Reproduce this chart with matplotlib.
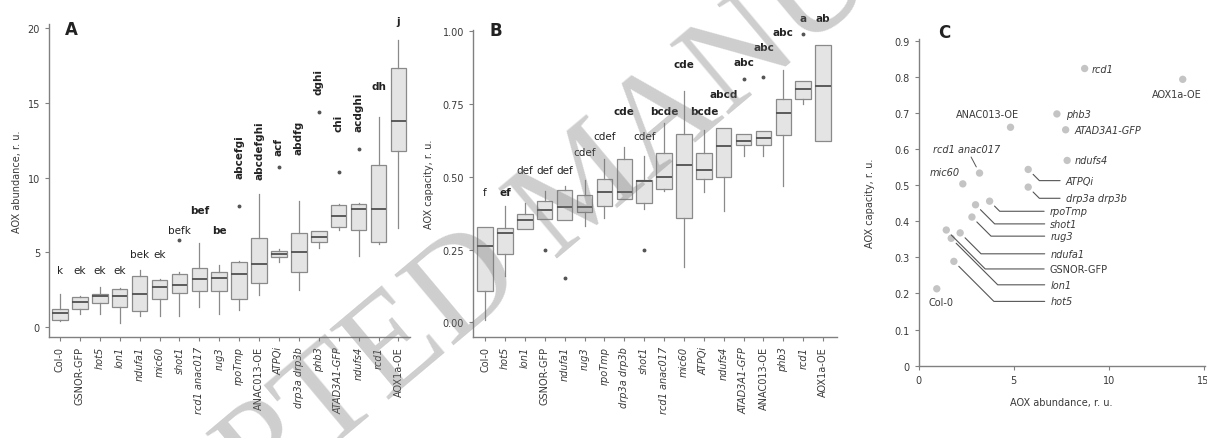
import numpy as np
import matplotlib
matplotlib.use("Agg")
import matplotlib.pyplot as plt

# ---------------- datos panel A (AOX abundance) ----------------
cats_a = ['Col-0', 'GSNOR-GFP', 'hot5', 'lon1', 'ndufa1', 'mic60', 'shot1',
          'rcd1 anac017', 'rug3', 'rpoTmp', 'ANAC013-OE', 'ATPQi',
          'drp3a drp3b', 'phb3', 'ATAD3A1-GFP', 'ndufs4', 'rcd1', 'AOX1a-OE']
a_q1 = [0.44, 1.18, 1.63, 1.34, 1.05, 1.90, 2.29, 2.39, 2.39, 1.90, 2.96, 4.71,
        3.65, 5.72, 6.72, 6.46, 5.70, 11.75]
a_med = [0.96, 1.68, 2.08, 2.08, 2.24, 2.69, 2.84, 3.18, 3.25, 3.52, 4.19, 4.89,
         5.04, 6.00, 7.46, 7.91, 7.90, 13.75]
a_q3 = [1.23, 2.02, 2.24, 2.53, 3.40, 3.13, 3.58, 3.92, 3.70, 4.37, 5.98, 5.08,
        6.27, 6.39, 8.14, 8.23, 10.87, 17.30]
a_lo = [0.40, 0.89, 0.89, 0.29, 0.74, 0.76, 0.76, 1.34, 0.89, 1.12, 2.13, 4.32,
        2.46, 5.27, 6.50, 4.72, 5.55, 6.65]
a_hi = [2.24, 2.10, 2.69, 2.60, 3.81, 3.20, 3.70, 5.60, 4.14, 4.40, 8.87, 5.20,
        8.42, 6.40, 8.20, 8.30, 14.05, 19.20]
a_out = [[], [], [], [], [], [], [5.82], [], [], [8.07], [], [10.7], [], [14.4],
         [10.4], [11.9], [], []]
a_letras = ['k', 'ek', 'ek', 'ek', 'bek', 'ek', 'befk', 'bef', 'be', 'abcefgi',
            'abcdefghi', 'acf', 'abdfg', 'dghi', 'chi', 'acdghi', 'dh', 'j']
a_negrita = [False, False, False, False, False, False, False, True, True, True,
             True, True, True, True, True, True, True, True]
a_vertical = [False] * 9 + [True] * 7 + [False, False]

# ---------------- datos panel B (AOX capacity) ----------------
cats_b = ['Col-0', 'hot5', 'lon1', 'GSNOR-GFP', 'ndufa1', 'rug3', 'rpoTmp',
          'drp3a drp3b', 'shot1', 'rcd1 anac017', 'mic60', 'ATPQi', 'ndufs4',
          'ATAD3A1-GFP', 'ANAC013-OE', 'phb3', 'rcd1', 'AOX1a-OE']
b_q1 = [0.107, 0.235, 0.319, 0.354, 0.351, 0.378, 0.401, 0.424, 0.409, 0.459,
        0.360, 0.494, 0.500, 0.610, 0.610, 0.645, 0.767, 0.622]
b_med = [0.261, 0.308, 0.351, 0.386, 0.397, 0.395, 0.447, 0.447, 0.485, 0.500,
         0.540, 0.525, 0.607, 0.622, 0.633, 0.718, 0.802, 0.811]
b_q3 = [0.328, 0.325, 0.372, 0.418, 0.455, 0.436, 0.494, 0.563, 0.488, 0.581,
        0.649, 0.581, 0.668, 0.649, 0.657, 0.767, 0.831, 0.953]
b_lo = [0.006, 0.160, 0.319, 0.354, 0.351, 0.331, 0.360, 0.424, 0.390, 0.450,
        0.190, 0.447, 0.384, 0.570, 0.570, 0.470, 0.750, 0.622]
b_hi = [0.328, 0.400, 0.410, 0.453, 0.470, 0.488, 0.563, 0.604, 0.570, 0.686,
        0.796, 0.662, 0.668, 0.649, 0.657, 0.866, 0.831, 0.953]
b_out = [[], [], [], [0.25], [0.153], [], [], [], [0.25], [], [], [], [],
         [0.837], [0.842], [], [0.99], []]
b_letras = ['f', 'ef', 'def', 'def', 'def', 'cdef', 'cdef', 'cde', 'cdef',
            'bcde', 'cde', 'bcde', 'abcd', 'abc', 'abc', 'abc', 'a', 'ab']
b_negrita = [False, True, False, False, False, False, False, True, False, True,
             True, True, True, True, True, True, True, True]

# ---------------- datos panel C ----------------
c_nombres = ['rcd1', 'AOX1a-OE', 'phb3', 'ATAD3A1-GFP', 'ANAC013-OE', 'ndufs4',
             'ATPQi', 'drp3a drp3b', 'rcd1 anac017', 'mic60', 'rpoTmp', 'shot1',
             'rug3', 'ndufa1', 'GSNOR-GFP', 'lon1', 'hot5', 'Col-0']
c_abund = [8.74, 13.9, 7.28, 7.74, 4.84, 7.82, 5.77, 5.77, 3.21, 2.33, 3.74,
           3.00, 2.81, 2.19, 1.46, 1.72, 1.86, 0.96]
c_capac = [0.824, 0.794, 0.698, 0.654, 0.661, 0.569, 0.544, 0.495, 0.534, 0.504,
           0.456, 0.446, 0.412, 0.368, 0.376, 0.353, 0.289, 0.213]

# nombres que van en cursiva
no_cursiva = {'Col-0', 'GSNOR-GFP', 'ANAC013-OE', 'AOX1a-OE'}

# posiciones de las etiquetas (maquetación)
a_letra_y = [3.8, 3.8, 3.8, 3.8, 4.86, 4.86, 6.5, 7.84, 6.5, 10.0, 9.9, 11.5,
             11.6, 15.6, 13.1, 13.1, 16.1, 20.5]
b_letra_y = [0.447, 0.447, 0.524, 0.524, 0.524, 0.587, 0.639, 0.727, 0.639,
             0.727, 0.889, 0.727, 0.785, 0.895, 0.946, 0.999, 1.048, 1.048]
c_texto_pos = {'rcd1': (9.09, 0.823, 'left'), 'AOX1a-OE': (14.88, 0.754, 'right'),
               'phb3': (7.77, 0.698, 'left'), 'ATAD3A1-GFP': (8.21, 0.654, 'left'),
               'ANAC013-OE': (3.65, 0.698, 'center'), 'ndufs4': (8.21, 0.569, 'left'),
               'mic60': (1.37, 0.537, 'center'), 'Col-0': (1.19, 0.176, 'center'),
               'rcd1 anac017': (2.55, 0.600, 'center')}
c_guia_pos = {'ATPQi': (7.74, 0.513), 'drp3a drp3b': (7.74, 0.464),
              'rpoTmp': (6.9, 0.428), 'shot1': (6.93, 0.393), 'rug3': (6.93, 0.359),
              'ndufa1': (6.93, 0.310), 'GSNOR-GFP': (6.9, 0.268),
              'lon1': (6.93, 0.224), 'hot5': (6.93, 0.178)}

GRIS = '#808080'
TEXTO = '#3a3a3a'
FS = 7


def estilo_ejes(ax):
    for s in ['top', 'right']:
        ax.spines[s].set_visible(False)
    for s in ['left', 'bottom']:
        ax.spines[s].set_color(GRIS)
        ax.spines[s].set_linewidth(1.0)
    ax.tick_params(colors=GRIS, labelcolor=TEXTO, labelsize=FS, length=3, width=0.8)


def cajas(ax, q1, med, q3, lo, hi, out):
    stats = []
    for i in range(len(med)):
        stats.append(dict(q1=q1[i], med=med[i], q3=q3[i], whislo=lo[i],
                          whishi=hi[i], fliers=out[i]))
    pos = np.arange(1, len(med) + 1)
    ax.bxp(stats, positions=pos, widths=0.78, patch_artist=True, showcaps=False,
           boxprops=dict(facecolor='#e4e4e4', edgecolor='#8a8a8a', linewidth=0.9),
           medianprops=dict(color='#505050', linewidth=1.3),
           whiskerprops=dict(color='#8a8a8a', linewidth=0.9),
           flierprops=dict(marker='o', markersize=1.8, markerfacecolor='#555555',
                           markeredgecolor='#555555'))
    return pos


def etiquetas_x(ax, pos, cats):
    ax.set_xticks(pos)
    ax.set_xticklabels(cats, rotation=90)
    for t in ax.get_xticklabels():
        if t.get_text() not in no_cursiva:
            t.set_style('italic')


fig = plt.figure(figsize=(12.07, 4.39), dpi=100)

# ---------------- Panel A ----------------
axA = fig.add_axes([0.0406, 0.230, 0.2994, 0.713])
pos = cajas(axA, a_q1, a_med, a_q3, a_lo, a_hi, a_out)
estilo_ejes(axA)
axA.set_xlim(0.45, 18.6)
axA.set_ylim(-0.67, 20.27)
axA.set_yticks([0, 5, 10, 15, 20])
etiquetas_x(axA, pos, cats_a)
axA.set_ylabel('AOX abundance, r. u.', fontsize=FS, color=TEXTO, labelpad=4)
for i, txt in enumerate(a_letras):
    peso = 'bold' if a_negrita[i] else 'normal'
    if a_vertical[i]:
        axA.text(pos[i], a_letra_y[i], txt, rotation=90, ha='center', va='bottom',
                 fontsize=7.5, fontweight=peso, color='#222222', clip_on=False)
    else:
        axA.text(pos[i], a_letra_y[i], txt, ha='center', va='center',
                 fontsize=7.5, fontweight=peso, color='#222222', clip_on=False)
axA.text(0.045, 0.985, 'A', transform=axA.transAxes, fontsize=12,
         fontweight='bold', color='#222222', va='center')

# ---------------- Panel B ----------------
axB = fig.add_axes([0.392, 0.230, 0.3015, 0.700])
pos = cajas(axB, b_q1, b_med, b_q3, b_lo, b_hi, b_out)
estilo_ejes(axB)
axB.set_xlim(0.4, 18.7)
axB.set_ylim(-0.051, 1.006)
axB.set_yticks([0, 0.25, 0.5, 0.75, 1.0])
axB.set_yticklabels(['0.00', '0.25', '0.50', '0.75', '1.00'])
etiquetas_x(axB, pos, cats_b)
axB.set_ylabel('AOX capacity, r. u.', fontsize=FS, color=TEXTO, labelpad=6)
for i, txt in enumerate(b_letras):
    peso = 'bold' if b_negrita[i] else 'normal'
    axB.text(pos[i], b_letra_y[i], txt, ha='center', va='center', fontsize=7.5,
             fontweight=peso, color='#222222', clip_on=False)
axB.text(0.045, 1.0, 'B', transform=axB.transAxes, fontsize=12,
         fontweight='bold', color='#222222', va='center')

# ---------------- Panel C ----------------
axC = fig.add_axes([0.761, 0.165, 0.237, 0.744])
estilo_ejes(axC)
axC.scatter(c_abund, c_capac, s=28, color='#c4c4c4', edgecolors='none', zorder=3)
axC.set_xlim(0, 15.05)
axC.set_ylim(0, 0.906)
axC.set_xticks([0, 5, 10, 15])
axC.set_yticks(np.arange(0, 0.91, 0.1))
axC.set_yticklabels(['0', '0.1', '0.2', '0.3', '0.4', '0.5', '0.6', '0.7', '0.8', '0.9'])
axC.set_xlabel('AOX abundance, r. u.', fontsize=FS, color=TEXTO, labelpad=9)
axC.set_ylabel('AOX capacity, r. u.', fontsize=FS, color=TEXTO, labelpad=14)
axC.text(0.07, 1.02, 'C', transform=axC.transAxes, fontsize=12,
         fontweight='bold', color='#222222', va='center')

for i, nombre in enumerate(c_nombres):
    estilo = 'normal' if nombre in no_cursiva else 'italic'
    if nombre in c_texto_pos:
        tx, ty, ha = c_texto_pos[nombre]
        if nombre == 'rcd1 anac017':
            axC.annotate(nombre, xy=(c_abund[i], c_capac[i]), xytext=(tx, ty),
                         ha=ha, va='center', fontsize=FS, style=estilo, color=TEXTO,
                         arrowprops=dict(arrowstyle='-', color='#555555', lw=0.7,
                                         shrinkA=0, shrinkB=5))
        else:
            axC.text(tx, ty, nombre, ha=ha, va='center', fontsize=FS,
                     style=estilo, color=TEXTO)
    else:
        tx, ty = c_guia_pos[nombre]
        axC.annotate(nombre, xy=(c_abund[i], c_capac[i]), xytext=(tx, ty),
                     ha='left', va='center', fontsize=FS, style=estilo, color=TEXTO,
                     arrowprops=dict(arrowstyle='-', color='#555555', lw=0.8,
                                     relpos=(0, 0.5), shrinkA=2, shrinkB=5,
                                     connectionstyle='angle,angleA=0,angleB=-45'))

# marca de agua
fig.text(0.487, 0.57, 'ACCEPTED MANUSCRIPT', rotation=40, rotation_mode='anchor',
         ha='center', va='center', fontsize=100, family='Liberation Serif',
         color='0.45', alpha=0.35, zorder=10)

fig.savefig('out.png', dpi=100)
